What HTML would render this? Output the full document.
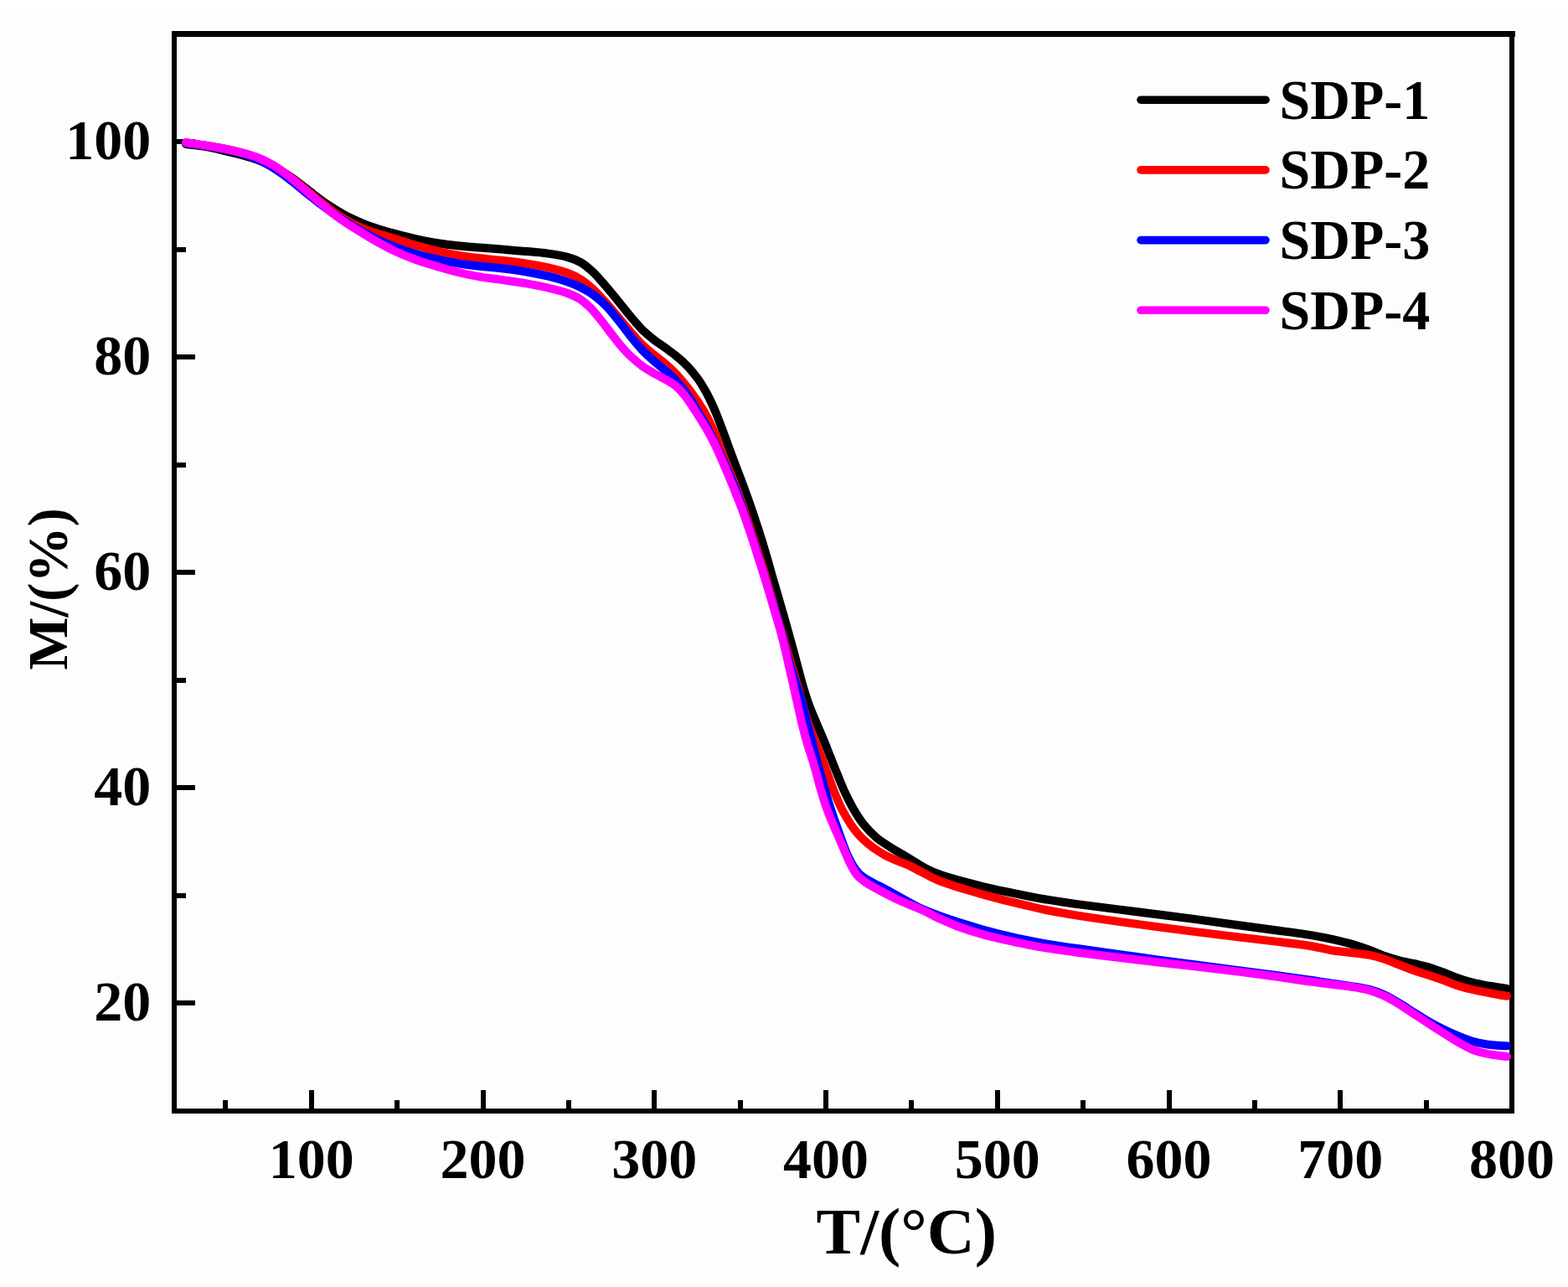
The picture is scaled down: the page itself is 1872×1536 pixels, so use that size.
<!DOCTYPE html>
<html><head><meta charset="utf-8"><title>TGA curves</title>
<style>
html,body{margin:0;padding:0;background:#fdfdfd;}
body{width:1872px;height:1536px;overflow:hidden;position:relative;}
.top{position:absolute;left:0;top:0;width:1872px;height:16px;background:#fff;}
svg{position:absolute;left:0;top:0;}
text{font-family:"Liberation Serif",serif;font-weight:bold;fill:#000;}
</style></head><body>
<div class="top"></div>
<svg width="1872" height="1536" viewBox="0 0 1872 1536">
<g fill="#000" shape-rendering="crispEdges"><rect x="205" y="37" width="1604" height="7"/><rect x="205" y="37" width="6" height="1292"/><rect x="1802" y="37" width="6" height="1292"/><rect x="205" y="1323" width="1603" height="6"/><rect x="266" y="1312.5" width="6" height="10.5"/><rect x="369" y="1301" width="6" height="22"/><rect x="471" y="1312.5" width="6" height="10.5"/><rect x="574" y="1301" width="6" height="22"/><rect x="676" y="1312.5" width="6" height="10.5"/><rect x="778" y="1301" width="6" height="22"/><rect x="881" y="1312.5" width="6" height="10.5"/><rect x="983" y="1301" width="6" height="22"/><rect x="1085" y="1312.5" width="6" height="10.5"/><rect x="1188" y="1301" width="6" height="22"/><rect x="1290" y="1312.5" width="6" height="10.5"/><rect x="1393" y="1301" width="6" height="22"/><rect x="1495" y="1312.5" width="6" height="10.5"/><rect x="1597" y="1301" width="6" height="22"/><rect x="1700" y="1312.5" width="6" height="10.5"/><rect x="211" y="1194" width="22" height="6"/><rect x="211" y="1066" width="10.5" height="6"/><rect x="211" y="937" width="22" height="6"/><rect x="211" y="809" width="10.5" height="6"/><rect x="211" y="680" width="22" height="6"/><rect x="211" y="552" width="10.5" height="6"/><rect x="211" y="423" width="22" height="6"/><rect x="211" y="295" width="10.5" height="6"/><rect x="211" y="166" width="22" height="6"/></g>
<g fill="none" stroke-width="10" stroke-linejoin="round" stroke-linecap="round">
<path d="M222.0 172.0C225.2 172.4 234.8 173.3 241.5 174.4C248.2 175.5 255.2 176.9 262.3 178.5C269.4 180.1 276.6 181.8 283.8 183.8C291.0 185.7 298.1 187.6 305.3 190.1C312.5 192.7 319.7 195.4 326.9 199.1C334.1 202.8 341.4 207.3 348.6 212.2C355.7 217.2 362.9 223.2 370.1 228.6C377.2 234.0 384.4 239.7 391.6 244.5C398.7 249.3 406.1 253.7 413.0 257.4C420.0 261.1 426.8 264.0 433.1 266.6C439.3 269.2 444.5 270.9 450.8 272.9C457.2 274.9 463.4 276.8 471.2 278.9C478.9 281.0 488.2 283.5 497.3 285.4C506.5 287.4 517.0 289.3 526.0 290.7C535.0 292.1 543.4 292.9 551.3 293.8C559.2 294.6 565.4 295.0 573.3 295.6C581.2 296.3 589.7 296.9 598.7 297.6C607.7 298.4 618.0 299.1 627.3 299.9C636.6 300.7 646.3 301.5 654.5 302.6C662.7 303.8 670.1 304.8 676.6 306.6C683.1 308.3 688.1 310.2 693.3 313.2C698.6 316.3 703.4 320.5 708.4 325.1C713.3 329.8 718.1 335.6 723.0 341.2C727.9 346.8 732.8 352.9 737.6 358.8C742.4 364.7 747.3 371.1 752.0 376.7C756.7 382.3 761.1 387.7 765.7 392.4C770.4 397.1 775.1 400.9 779.9 404.8C784.7 408.6 789.7 411.8 794.5 415.3C799.2 418.8 803.9 422.0 808.5 425.8C813.0 429.5 817.4 433.4 821.5 437.8C825.6 442.2 829.7 447.3 833.2 452.1C836.7 457.0 839.8 462.3 842.5 467.0C845.1 471.6 846.9 475.5 849.1 480.0C851.2 484.5 853.0 488.6 855.3 494.1C857.5 499.6 860.0 506.3 862.5 513.0C865.1 519.7 867.7 527.3 870.3 534.5C873.0 541.7 875.7 548.9 878.5 556.3C881.3 563.7 884.2 571.2 887.0 578.7C889.8 586.2 892.6 593.8 895.1 601.2C897.7 608.6 900.1 615.8 902.5 623.0C904.9 630.2 907.2 637.3 909.4 644.5C911.6 651.7 913.7 658.9 915.9 666.3C918.0 673.7 920.1 681.2 922.2 688.7C924.4 696.2 926.7 703.8 928.8 711.2C931.0 718.6 933.0 725.8 935.1 733.0C937.2 740.2 939.2 747.3 941.2 754.5C943.2 761.7 945.2 768.9 947.2 776.3C949.2 783.7 951.2 791.2 953.2 798.7C955.2 806.2 957.1 813.8 959.3 821.2C961.5 828.6 963.8 835.8 966.5 843.0C969.2 850.2 972.5 857.5 975.4 864.5C978.3 871.5 981.4 878.5 984.1 885.0C986.8 891.6 989.0 897.5 991.5 903.7C994.0 910.0 996.3 915.9 999.0 922.4C1001.6 929.0 1004.3 936.0 1007.5 943.0C1010.7 950.0 1014.4 957.6 1018.3 964.5C1022.3 971.4 1026.7 978.4 1031.3 984.2C1036.0 990.0 1041.0 995.1 1046.2 999.5C1051.4 1004.0 1057.3 1007.4 1062.6 1010.9C1067.9 1014.3 1073.1 1017.1 1078.1 1020.1C1083.1 1023.1 1087.9 1026.1 1092.4 1028.8C1097.0 1031.5 1100.6 1034.0 1105.2 1036.4C1109.9 1038.8 1113.7 1040.7 1120.1 1043.0C1126.5 1045.4 1135.0 1048.0 1143.7 1050.4C1152.4 1052.9 1162.8 1055.5 1172.3 1057.8C1181.9 1060.1 1192.0 1062.3 1201.0 1064.2C1210.0 1066.1 1218.4 1067.8 1226.3 1069.4C1234.2 1071.0 1238.7 1071.9 1248.7 1073.5C1258.6 1075.1 1269.0 1076.8 1286.2 1079.1C1303.5 1081.5 1329.0 1084.6 1351.9 1087.5C1374.8 1090.4 1402.3 1093.8 1423.8 1096.6C1445.2 1099.5 1463.8 1102.2 1480.6 1104.5C1497.5 1106.8 1512.0 1108.7 1525.0 1110.5C1538.0 1112.2 1548.8 1113.5 1558.8 1115.1C1568.9 1116.6 1576.7 1118.0 1585.4 1119.8C1594.1 1121.7 1602.7 1123.6 1610.8 1125.9C1618.9 1128.2 1627.0 1131.0 1634.1 1133.5C1641.1 1136.1 1647.0 1139.0 1653.1 1141.1C1659.2 1143.3 1664.7 1144.9 1670.7 1146.4C1676.6 1147.9 1682.9 1148.8 1689.0 1150.2C1695.0 1151.6 1701.0 1152.9 1706.8 1154.7C1712.6 1156.5 1718.2 1158.7 1723.9 1160.8C1729.5 1163.0 1735.2 1165.7 1740.8 1167.6C1746.4 1169.6 1752.1 1171.3 1757.7 1172.7C1763.3 1174.1 1769.4 1175.1 1774.6 1176.1C1779.9 1177.0 1785.1 1177.8 1789.2 1178.5C1793.3 1179.1 1797.4 1179.7 1799.0 1180.0" stroke="#000"/>
<path d="M222.0 170.5C225.2 171.0 234.8 172.3 241.5 173.2C248.2 174.2 255.3 175.0 262.3 176.4C269.3 177.7 276.6 179.3 283.7 181.2C290.9 183.2 298.0 185.4 305.1 188.2C312.3 191.1 319.6 194.2 326.8 198.2C334.1 202.3 341.3 207.3 348.6 212.7C355.8 218.1 362.9 224.5 370.1 230.4C377.2 236.3 384.4 242.5 391.6 247.8C398.7 253.2 406.1 258.3 413.0 262.4C420.0 266.5 426.8 269.8 433.1 272.5C439.3 275.2 444.5 276.6 450.8 278.7C457.2 280.7 463.4 282.5 471.2 284.9C478.9 287.3 488.2 290.4 497.3 293.0C506.5 295.6 517.0 298.4 526.0 300.5C535.0 302.6 543.4 304.2 551.3 305.5C559.2 306.8 565.4 307.4 573.3 308.3C581.2 309.1 589.7 309.7 598.7 310.8C607.7 311.8 618.0 312.9 627.3 314.4C636.6 315.8 646.3 317.6 654.5 319.4C662.7 321.3 670.1 323.2 676.6 325.5C683.1 327.8 688.1 330.1 693.3 333.4C698.6 336.7 703.4 340.8 708.4 345.4C713.3 349.9 718.2 355.6 723.0 360.9C727.8 366.2 732.5 371.8 737.3 377.4C742.1 383.1 747.0 389.2 751.9 394.9C756.8 400.5 761.9 406.6 766.8 411.4C771.6 416.2 776.3 419.9 781.0 423.7C785.7 427.6 790.0 430.3 794.7 434.4C799.4 438.5 804.2 442.8 809.2 448.5C814.3 454.1 820.0 461.1 825.2 468.2C830.4 475.2 836.0 483.4 840.4 490.9C844.8 498.4 848.3 505.7 851.5 513.0C854.8 520.3 857.0 527.3 859.8 534.5C862.6 541.7 865.6 548.9 868.6 556.3C871.5 563.7 874.8 571.2 877.7 578.7C880.6 586.2 883.4 593.8 886.0 601.2C888.6 608.6 890.9 615.8 893.3 623.0C895.7 630.2 898.0 637.3 900.3 644.5C902.7 651.7 905.0 658.9 907.3 666.3C909.7 673.7 912.0 681.2 914.2 688.7C916.4 696.2 918.5 703.8 920.7 711.2C922.8 718.6 924.9 725.8 927.0 733.0C929.2 740.2 931.4 747.3 933.5 754.5C935.6 761.7 937.6 768.9 939.7 776.3C941.9 783.7 944.1 791.2 946.3 798.7C948.5 806.2 950.9 813.8 953.0 821.2C955.0 828.6 956.7 835.8 958.9 843.0C961.0 850.2 963.2 857.5 965.6 864.5C968.0 871.5 970.9 878.5 973.4 885.0C975.9 891.6 978.3 897.5 980.7 903.7C983.0 910.0 985.3 915.9 987.7 922.4C990.1 929.0 992.3 935.9 995.1 943.0C998.0 950.1 1001.1 958.0 1004.7 965.0C1008.3 972.0 1012.7 979.4 1016.6 985.2C1020.6 991.0 1024.4 995.6 1028.5 999.8C1032.6 1004.1 1036.7 1007.3 1041.2 1010.7C1045.8 1014.1 1051.1 1017.5 1056.1 1020.3C1061.1 1023.0 1066.1 1025.1 1071.0 1027.2C1075.8 1029.4 1080.5 1030.7 1085.3 1032.9C1090.1 1035.1 1094.4 1037.7 1099.9 1040.5C1105.4 1043.4 1111.0 1046.9 1118.3 1049.9C1125.6 1053.0 1134.7 1055.9 1143.7 1058.8C1152.7 1061.7 1162.8 1064.5 1172.3 1067.2C1181.9 1069.8 1192.0 1072.5 1201.0 1074.8C1210.0 1077.0 1218.4 1079.0 1226.3 1080.8C1234.2 1082.7 1238.7 1084.0 1248.7 1086.0C1258.6 1088.0 1269.0 1089.9 1286.2 1092.6C1303.5 1095.3 1329.0 1099.0 1351.9 1102.1C1374.8 1105.3 1402.3 1108.9 1423.8 1111.6C1445.2 1114.4 1463.8 1116.6 1480.6 1118.6C1497.5 1120.7 1512.3 1122.3 1525.0 1123.9C1537.7 1125.4 1548.4 1126.6 1556.7 1127.8C1565.0 1129.0 1569.3 1129.9 1574.8 1131.0C1580.3 1132.0 1583.6 1133.2 1589.6 1134.2C1595.6 1135.1 1603.4 1135.8 1610.8 1136.7C1618.2 1137.6 1627.0 1138.3 1634.1 1139.7C1641.1 1141.0 1647.0 1142.7 1653.1 1144.7C1659.2 1146.7 1664.7 1149.2 1670.7 1151.5C1676.6 1153.7 1682.9 1156.3 1689.0 1158.5C1695.0 1160.6 1701.0 1162.3 1706.8 1164.2C1712.6 1166.1 1718.2 1168.0 1723.9 1170.0C1729.5 1172.1 1735.2 1174.6 1740.8 1176.4C1746.4 1178.2 1752.1 1179.7 1757.7 1181.0C1763.3 1182.4 1769.4 1183.4 1774.6 1184.4C1779.9 1185.4 1785.1 1186.5 1789.2 1187.2C1793.3 1187.9 1797.4 1188.4 1799.0 1188.7" stroke="#f00"/>
<path d="M222.0 170.5C225.2 171.0 234.8 172.4 241.5 173.5C248.2 174.6 255.3 175.6 262.3 177.0C269.3 178.4 276.9 179.9 283.7 181.8C290.6 183.7 297.4 185.9 303.4 188.4C309.5 190.9 314.7 193.6 320.0 196.6C325.3 199.5 330.1 202.7 335.0 206.1C339.9 209.5 344.5 213.1 349.5 217.0C354.5 220.9 359.3 225.1 365.1 229.8C371.0 234.4 377.7 240.0 384.5 245.1C391.3 250.1 399.1 255.7 406.0 260.2C412.9 264.7 419.2 268.4 425.7 272.2C432.2 275.9 437.7 279.2 444.9 282.9C452.2 286.5 460.4 290.5 469.1 293.9C477.9 297.3 487.8 300.6 497.3 303.3C506.8 306.1 517.0 308.4 526.0 310.4C535.0 312.3 543.4 313.8 551.3 315.1C559.2 316.3 565.4 316.8 573.3 317.7C581.2 318.6 589.7 319.2 598.7 320.3C607.7 321.4 618.0 322.7 627.3 324.2C636.6 325.8 646.3 327.8 654.5 329.7C662.7 331.7 670.1 333.8 676.6 336.1C683.1 338.3 688.1 340.4 693.3 343.0C698.6 345.6 703.4 348.4 708.4 351.9C713.3 355.5 718.2 359.6 723.0 364.5C727.8 369.3 732.5 375.2 737.3 381.1C742.0 386.9 746.8 393.8 751.5 399.7C756.3 405.7 761.0 411.6 765.8 416.7C770.6 421.8 775.4 426.1 780.1 430.4C784.9 434.7 789.8 438.3 794.4 442.4C799.1 446.5 803.6 450.2 807.9 455.0C812.3 459.8 816.3 465.2 820.6 471.2C824.8 477.3 829.3 484.5 833.5 491.5C837.7 498.5 841.9 505.8 845.7 513.0C849.5 520.2 852.8 527.3 856.2 534.5C859.7 541.7 863.1 548.9 866.4 556.3C869.7 563.7 873.1 571.2 876.1 578.7C879.2 586.2 881.9 593.8 884.6 601.2C887.2 608.6 889.6 615.8 892.0 623.0C894.5 630.2 896.9 637.3 899.2 644.5C901.5 651.7 903.7 658.7 906.0 666.0C908.2 673.3 910.5 680.6 912.8 688.1C915.2 695.6 917.7 703.4 920.0 710.9C922.3 718.4 924.5 725.7 926.6 733.0C928.8 740.3 930.8 747.4 932.8 754.5C934.7 761.6 936.3 768.3 938.2 775.4C940.2 782.4 942.0 789.4 944.2 796.9C946.5 804.4 949.3 812.6 951.7 820.2C954.0 827.9 956.4 835.6 958.5 843.0C960.5 850.4 962.2 857.5 964.0 864.5C965.9 871.5 967.7 878.5 969.4 885.0C971.1 891.6 972.6 897.5 974.2 903.7C975.8 910.0 977.3 915.9 979.1 922.4C981.0 929.0 983.0 936.0 985.0 943.0C987.1 950.0 989.2 957.4 991.5 964.5C993.8 971.6 996.4 979.0 998.8 985.6C1001.1 992.2 1003.4 998.6 1005.4 1004.2C1007.5 1009.8 1009.2 1014.4 1011.2 1019.1C1013.3 1023.8 1015.3 1028.2 1017.8 1032.2C1020.2 1036.1 1022.6 1039.8 1025.7 1042.8C1028.8 1045.8 1032.2 1048.0 1036.2 1050.4C1040.1 1052.8 1044.9 1054.9 1049.5 1057.3C1054.1 1059.7 1059.0 1062.2 1063.8 1064.8C1068.6 1067.4 1073.3 1070.3 1078.1 1072.9C1082.9 1075.6 1087.9 1078.3 1092.4 1080.6C1097.0 1082.9 1100.6 1084.7 1105.2 1086.7C1109.9 1088.7 1113.7 1090.2 1120.1 1092.5C1126.5 1094.8 1135.0 1097.8 1143.7 1100.6C1152.4 1103.3 1162.8 1106.5 1172.3 1109.2C1181.9 1111.8 1192.0 1114.3 1201.0 1116.5C1210.0 1118.7 1218.4 1120.6 1226.3 1122.2C1234.2 1123.9 1238.7 1124.8 1248.7 1126.4C1258.6 1128.1 1269.0 1129.6 1286.2 1132.0C1303.5 1134.5 1329.0 1138.1 1351.9 1141.3C1374.8 1144.4 1402.3 1148.2 1423.8 1151.0C1445.2 1153.8 1463.8 1156.2 1480.6 1158.4C1497.5 1160.6 1512.0 1162.5 1525.0 1164.2C1538.0 1166.0 1548.8 1167.5 1558.8 1169.0C1568.9 1170.4 1576.7 1171.7 1585.4 1173.0C1594.1 1174.3 1602.7 1175.4 1610.8 1176.7C1618.9 1178.0 1627.0 1178.9 1634.1 1180.7C1641.1 1182.5 1647.0 1184.7 1653.1 1187.5C1659.2 1190.2 1664.7 1193.8 1670.7 1197.4C1676.6 1201.0 1682.9 1205.1 1689.0 1208.9C1695.0 1212.6 1701.0 1216.6 1706.8 1219.9C1712.6 1223.2 1718.2 1226.1 1723.9 1228.8C1729.5 1231.6 1735.2 1234.1 1740.8 1236.4C1746.4 1238.7 1752.1 1241.1 1757.7 1242.8C1763.3 1244.4 1769.4 1245.5 1774.6 1246.4C1779.9 1247.2 1785.1 1247.5 1789.2 1247.8C1793.3 1248.2 1797.4 1248.1 1799.0 1248.2" stroke="#00f"/>
<path d="M222.0 170.0C225.2 170.5 234.8 171.9 241.5 173.0C248.2 174.1 255.5 175.2 262.3 176.5C269.1 177.8 276.0 179.2 282.0 180.6C288.0 182.0 293.0 183.2 298.1 184.8C303.2 186.4 307.7 188.0 312.5 190.1C317.3 192.3 321.8 194.5 326.9 197.6C332.0 200.8 337.2 204.5 343.2 209.1C349.2 213.8 356.6 220.2 363.0 225.6C369.4 231.1 376.4 237.1 381.8 241.6C387.1 246.1 390.6 249.2 395.1 252.8C399.6 256.3 403.2 259.2 408.6 262.9C414.0 266.6 420.8 270.9 427.5 275.0C434.2 279.1 441.3 283.5 448.6 287.6C455.8 291.6 462.8 295.7 470.9 299.5C479.1 303.3 488.1 307.0 497.3 310.3C506.5 313.6 517.0 316.6 526.0 319.2C535.0 321.9 543.4 324.1 551.3 326.0C559.2 327.8 565.4 329.1 573.3 330.4C581.2 331.7 589.7 332.6 598.7 333.9C607.7 335.2 618.1 336.6 627.3 338.1C636.6 339.7 646.1 341.6 654.2 343.5C662.3 345.4 669.7 347.2 676.1 349.5C682.5 351.7 687.5 353.8 692.4 356.9C697.2 359.9 701.1 363.6 705.2 367.6C709.3 371.7 713.0 376.6 716.9 381.4C720.8 386.2 724.6 391.5 728.5 396.6C732.5 401.6 736.4 407.0 740.6 411.9C744.8 416.8 749.2 421.7 753.7 425.9C758.1 430.1 762.8 433.9 767.3 437.2C771.9 440.5 776.4 443.0 781.0 445.7C785.6 448.3 790.4 450.4 794.7 452.9C799.0 455.4 803.0 457.3 806.9 460.6C810.7 463.8 813.8 467.2 817.7 472.2C821.7 477.3 826.2 484.3 830.6 491.1C835.0 497.9 840.0 505.8 844.2 513.0C848.3 520.2 851.9 527.3 855.4 534.5C858.8 541.7 861.9 548.9 865.0 556.3C868.2 563.7 871.3 571.2 874.4 578.7C877.4 586.2 880.5 593.8 883.4 601.2C886.2 608.6 888.9 615.8 891.4 623.0C894.0 630.2 896.2 637.3 898.6 644.5C901.0 651.7 903.3 658.9 905.6 666.3C908.0 673.7 910.5 681.2 912.8 688.7C915.1 696.2 917.4 703.8 919.6 711.2C921.8 718.6 923.9 725.8 926.0 733.0C928.1 740.2 930.3 747.3 932.2 754.5C934.1 761.7 935.9 768.9 937.7 776.3C939.5 783.7 941.1 791.2 942.8 798.7C944.5 806.2 946.3 813.8 947.9 821.2C949.6 828.6 951.2 835.8 952.8 843.0C954.5 850.2 956.0 857.5 957.7 864.5C959.4 871.5 961.2 878.5 963.1 885.0C965.0 891.6 967.0 897.5 969.0 903.7C970.9 910.0 972.7 915.9 974.5 922.4C976.4 929.0 978.0 935.9 980.1 943.0C982.2 950.1 984.4 957.6 987.1 965.0C989.8 972.4 993.0 980.0 996.2 987.5C999.4 995.0 1002.9 1002.9 1006.0 1010.0C1009.1 1017.1 1011.8 1024.3 1014.7 1030.0C1017.6 1035.7 1019.8 1040.2 1023.2 1044.2C1026.6 1048.3 1030.8 1051.2 1035.1 1054.2C1039.5 1057.2 1044.7 1059.8 1049.5 1062.3C1054.3 1064.9 1059.0 1067.4 1063.8 1069.8C1068.6 1072.1 1073.3 1074.4 1078.1 1076.5C1082.9 1078.6 1087.9 1080.5 1092.4 1082.4C1097.0 1084.3 1100.6 1085.9 1105.2 1088.1C1109.9 1090.3 1113.7 1092.6 1120.1 1095.6C1126.5 1098.5 1135.0 1102.4 1143.7 1105.7C1152.4 1108.9 1162.8 1112.2 1172.3 1114.9C1181.9 1117.7 1192.0 1119.9 1201.0 1121.9C1210.0 1124.0 1218.4 1125.7 1226.3 1127.3C1234.2 1128.9 1238.7 1129.8 1248.7 1131.4C1258.6 1132.9 1269.0 1134.5 1286.2 1136.7C1303.5 1138.9 1329.0 1142.0 1351.9 1144.8C1374.8 1147.5 1402.3 1150.6 1423.8 1153.1C1445.2 1155.7 1463.8 1157.8 1480.6 1159.9C1497.5 1162.1 1512.0 1164.0 1525.0 1165.8C1538.0 1167.7 1548.8 1169.3 1558.8 1170.8C1568.9 1172.2 1576.7 1173.2 1585.4 1174.2C1594.1 1175.3 1602.7 1176.0 1610.8 1177.2C1618.9 1178.5 1627.0 1179.7 1634.1 1181.7C1641.1 1183.6 1647.0 1185.9 1653.1 1188.8C1659.2 1191.6 1664.7 1195.1 1670.7 1198.8C1676.6 1202.4 1682.9 1206.7 1689.0 1210.7C1695.0 1214.6 1701.0 1218.6 1706.8 1222.4C1712.6 1226.2 1718.2 1229.8 1723.9 1233.3C1729.5 1236.9 1735.2 1240.6 1740.8 1243.8C1746.4 1247.0 1752.1 1250.3 1757.7 1252.6C1763.3 1254.9 1769.4 1256.3 1774.6 1257.5C1779.9 1258.7 1785.1 1259.2 1789.2 1259.8C1793.3 1260.3 1797.4 1260.8 1799.0 1261.0" stroke="#f0f"/>
</g>
<g font-size="68"><text transform="translate(371.8 1405.6) scale(1 1)" text-anchor="middle">100</text><text transform="translate(576.5 1405.6) scale(1 1)" text-anchor="middle">200</text><text transform="translate(781.3 1405.6) scale(1 1)" text-anchor="middle">300</text><text transform="translate(986.0 1405.6) scale(1 1)" text-anchor="middle">400</text><text transform="translate(1190.8 1405.6) scale(1 1)" text-anchor="middle">500</text><text transform="translate(1395.5 1405.6) scale(1 1)" text-anchor="middle">600</text><text transform="translate(1600.3 1405.6) scale(1 1)" text-anchor="middle">700</text><text transform="translate(1805.0 1405.6) scale(1 1)" text-anchor="middle">800</text><text transform="translate(180.2 1218.0) scale(1 1)" text-anchor="end">20</text><text transform="translate(180.2 961.0) scale(1 1)" text-anchor="end">40</text><text transform="translate(180.2 703.9) scale(1 1)" text-anchor="end">60</text><text transform="translate(180.2 446.8) scale(1 1)" text-anchor="end">80</text><text transform="translate(180.2 189.6) scale(1 1)" text-anchor="end">100</text></g>
<g fill="none" stroke-width="9.6" stroke-linecap="round"><line x1="1362" y1="119.2" x2="1511" y2="119.2" stroke="#000"/><line x1="1362" y1="202.9" x2="1511" y2="202.9" stroke="#f00"/><line x1="1362" y1="286.6" x2="1511" y2="286.6" stroke="#00f"/><line x1="1362" y1="370.3" x2="1511" y2="370.3" stroke="#f0f"/></g>
<g font-size="68.5"><text transform="translate(1527.5 141.5) scale(0.964 1)">SDP-1</text><text transform="translate(1527.5 225.2) scale(0.964 1)">SDP-2</text><text transform="translate(1527.5 308.9) scale(0.964 1)">SDP-3</text><text transform="translate(1527.5 392.6) scale(0.964 1)">SDP-4</text></g>
<text x="1082.3" y="1496" font-size="78.8" text-anchor="middle">T/(°C)</text>
<text transform="translate(80 703) rotate(-90)" font-size="67" text-anchor="middle">M/(%)</text>
</svg>
</body></html>
